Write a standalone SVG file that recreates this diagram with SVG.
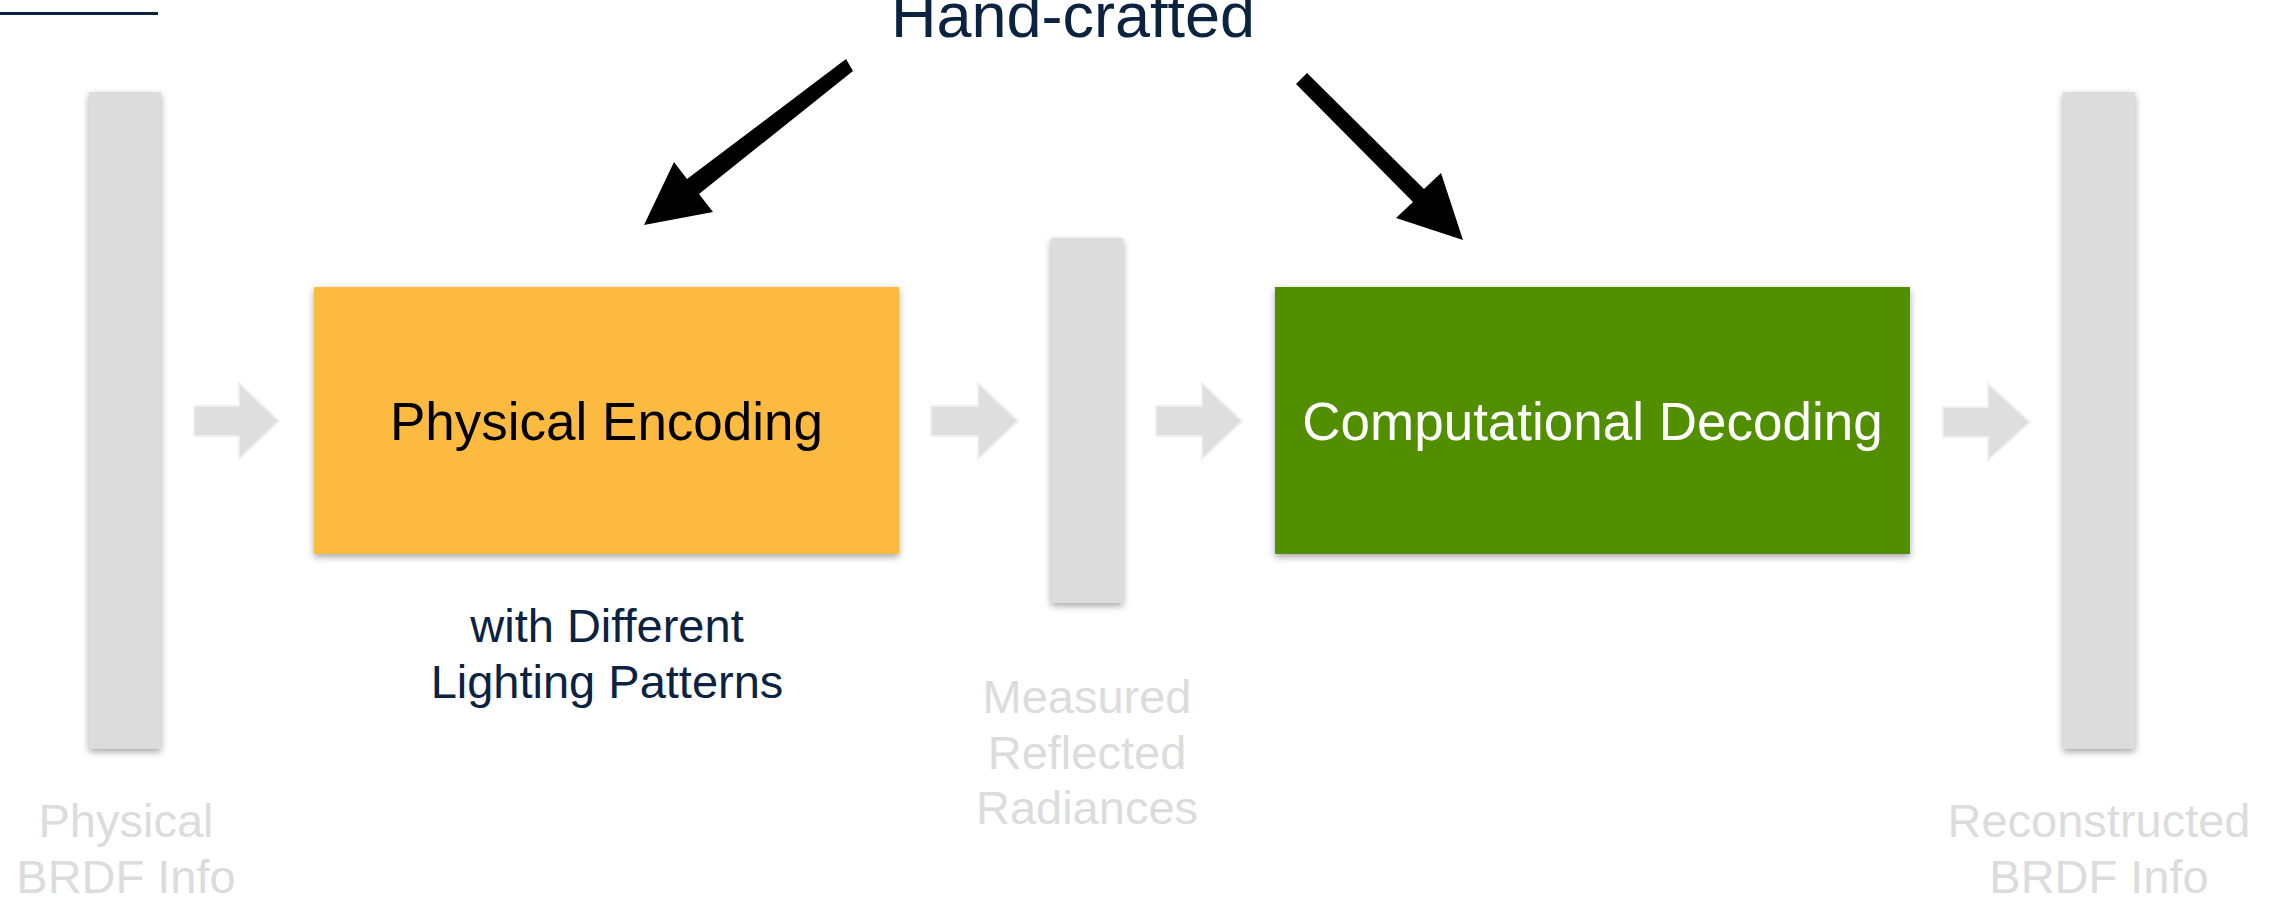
<svg xmlns="http://www.w3.org/2000/svg" width="2280" height="897" viewBox="0 0 2280 897">
<defs>
<filter id="sh" x="-30%" y="-10%" width="160%" height="125%">
<feDropShadow dx="0" dy="3" stdDeviation="3.5" flood-color="#000" flood-opacity="0.35"/>
</filter>
<style>
.bar{fill:#dcdcdc;filter:url(#sh)}
.blk{filter:url(#sh)}
.ga{fill:#dedede;stroke:#efefef;stroke-width:2}
.gl{font-family:"Liberation Sans",Arial,sans-serif;font-size:47px;fill:#dcdcdc;text-anchor:middle}
.nv{font-family:"Liberation Sans",Arial,sans-serif;fill:#0b2340;text-anchor:middle}
.bt{font-family:"Liberation Sans",Arial,sans-serif;font-size:53px;text-anchor:middle}
</style>
</defs>
<rect x="0" y="12" width="158" height="3" fill="#0b2340"/>
<text class="nv" x="1073" y="37" font-size="63">Hand-crafted</text>

<g id="physical-brdf">
<rect class="bar" x="89" y="92" width="72" height="657"/>
<text class="gl" x="126" y="837">Physical</text>
<text class="gl" x="126" y="893">BRDF Info</text>
</g>

<g id="physical-encoding">
<rect class="blk" x="314" y="287" width="585" height="267" fill="#fcba3f"/>
<text class="bt" x="606.5" y="440" fill="#000">Physical Encoding</text>
<text class="nv" x="607" y="642" font-size="47">with Different</text>
<text class="nv" x="607" y="698" font-size="47">Lighting Patterns</text>
</g>

<g id="measured">
<rect class="bar" x="1051" y="238" width="72" height="365"/>
<text class="gl" x="1087" y="713">Measured</text>
<text class="gl" x="1087" y="769">Reflected</text>
<text class="gl" x="1087" y="824">Radiances</text>
</g>

<g id="computational-decoding">
<rect class="blk" x="1275" y="287" width="635" height="267" fill="#518f00"/>
<text class="bt" x="1592.5" y="440" fill="#fff">Computational Decoding</text>
</g>

<g id="reconstructed">
<rect class="bar" x="2063" y="92" width="72" height="657"/>
<text class="gl" x="2099" y="837">Reconstructed</text>
<text class="gl" x="2099" y="893">BRDF Info</text>
</g>

<g id="connectors">
<polygon class="ga" points="194,406 239,406 239,383 279,421 239,459 239,436 194,436"/>
<polygon class="ga" points="931,406 978,406 978,383 1018,421 978,459 978,436 931,436"/>
<polygon class="ga" points="1156,406 1202,406 1202,383 1242,421 1202,459 1202,436 1156,436"/>
<polygon class="ga" points="1943,407 1988,407 1988,384 2030,422 1988,460 1988,437 1943,437"/>
<polygon fill="#000" points="846,59 687,179 674,162 644,225 713,212 699,194 853,71"/>
<polygon fill="#000" points="1307,73 1424,189 1441,173 1463,240 1396,218 1413,202 1296,84"/>
</g>
</svg>
